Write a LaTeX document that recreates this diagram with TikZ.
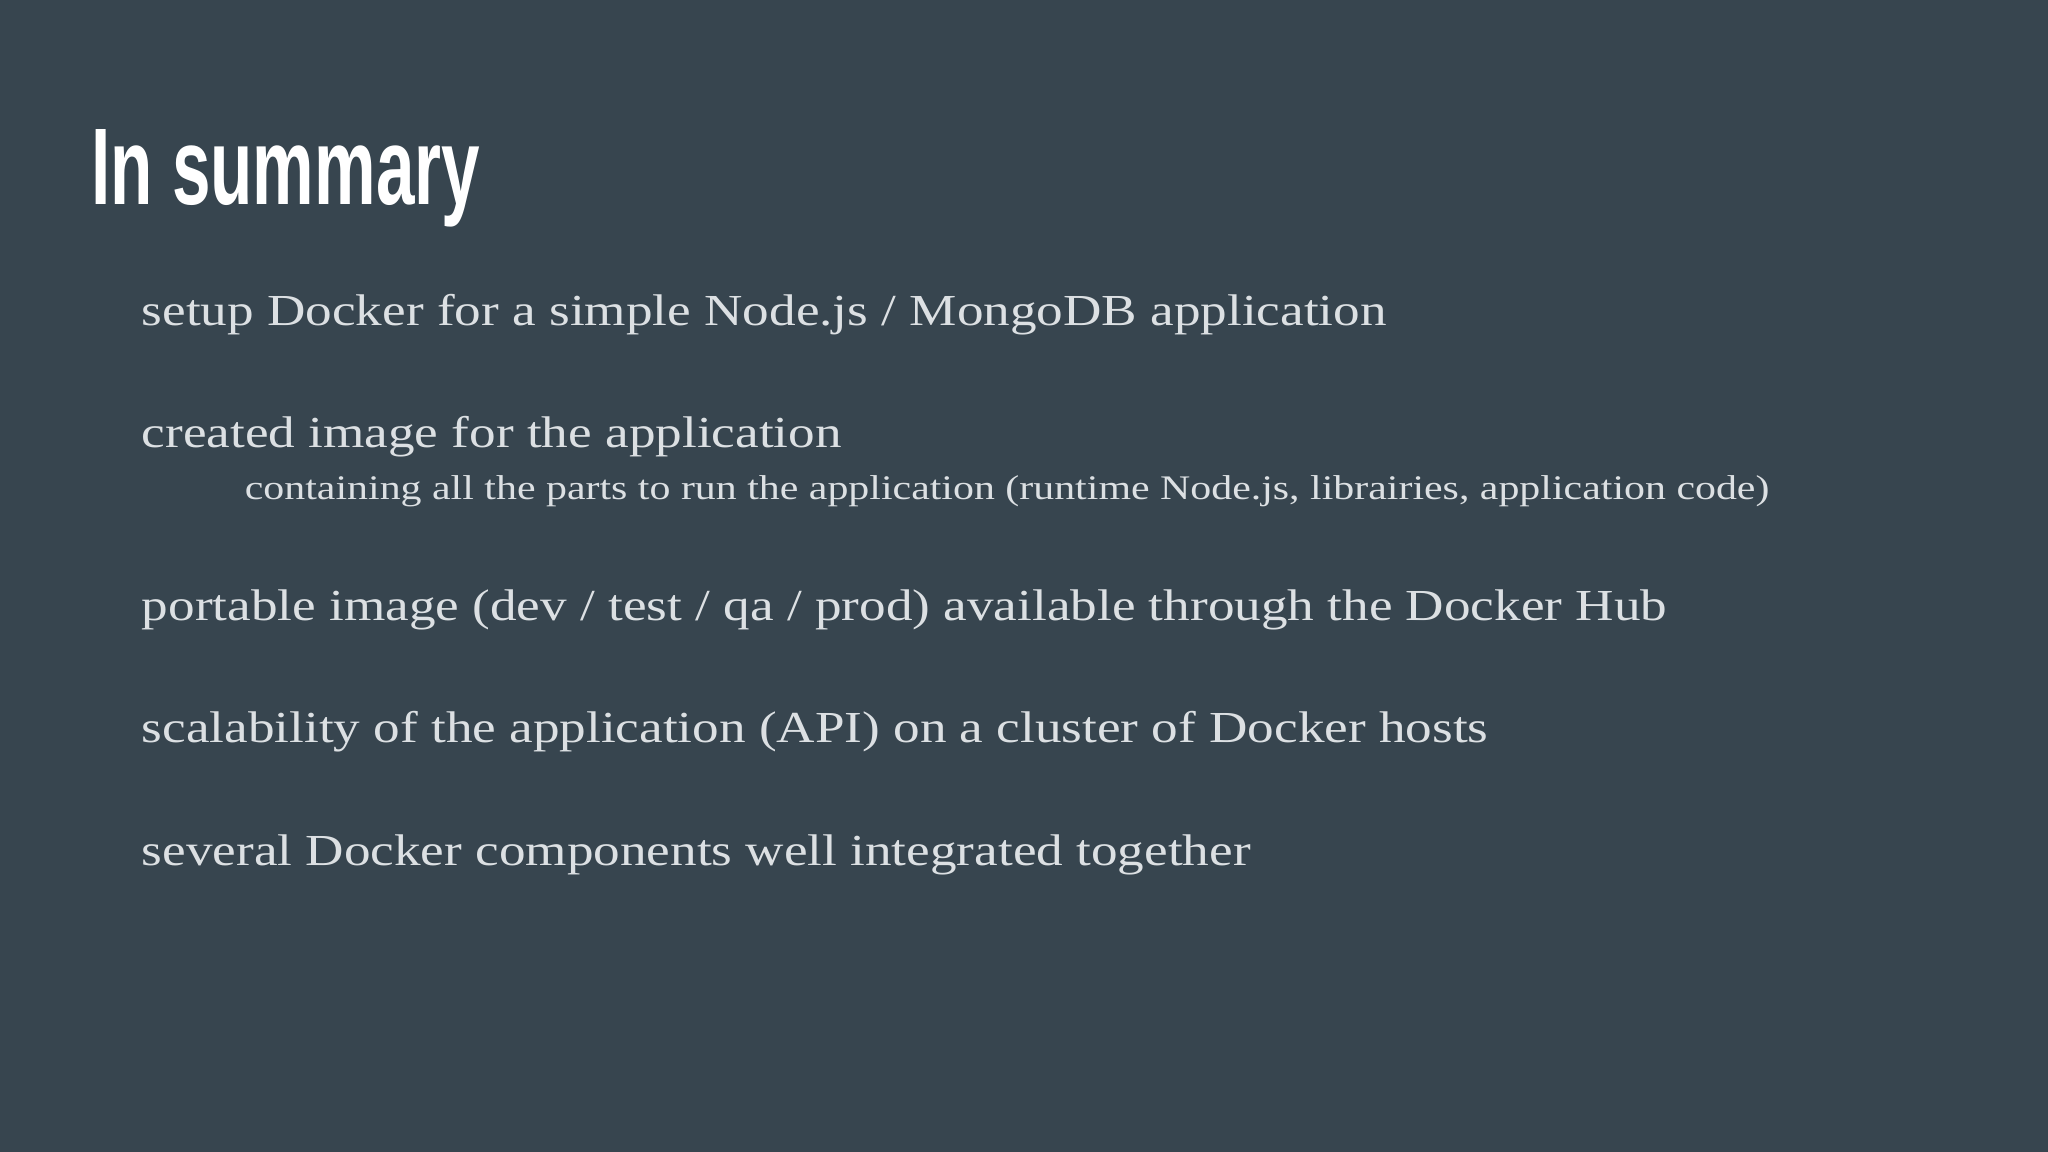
\documentclass[tikz,border=0pt]{standalone}
\usepackage{fontspec}
\setmainfont{Liberation Serif}
\newfontfamily\titlefont{Liberation Sans}
\definecolor{bg}{HTML}{37454F}
\definecolor{fg}{HTML}{DCE0E3}
\begin{document}
\begin{tikzpicture}[x=0.01cm,y=-0.01cm,
  item/.style={anchor=base west,inner sep=0pt,text=fg,xscale=1.2,font=\fontsize{12.6}{14}\selectfont},
  subitem/.style={anchor=base west,inner sep=0pt,text=fg,xscale=1.215,font=\fontsize{9.8}{12}\selectfont}]
\fill[bg] (0,0) rectangle (2048,1152);
\useasboundingbox (0,0) rectangle (2048,1152);
\node[anchor=base west,inner sep=0pt,text=white,xscale=0.635,font=\titlefont\bfseries\fontsize{31}{36}\selectfont] (t) at (91,205) {In summary};
\node[item] (a) at (141,326) {setup Docker for a simple Node.js / MongoDB application};
\node[item] (b) at (141,448) {created image for the application};
\node[subitem] (c) at (244,500) {containing all the parts to run the application (runtime Node.js, librairies, application code)};
\node[item] (d) at (141,620) {portable image (dev / test / qa / prod) available through the Docker Hub};
\node[item] (e) at (141,742) {scalability of the application (API) on a cluster of Docker hosts};
\node[item] (f) at (141,865) {several Docker components well integrated together};
\end{tikzpicture}
\end{document}
